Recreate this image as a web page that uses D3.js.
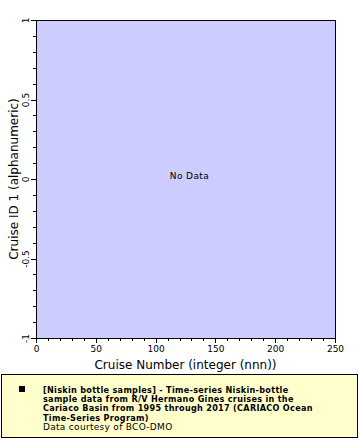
<!DOCTYPE html>
<html>
<head>
<meta charset="utf-8">
<script src="https://cdn.jsdelivr.net/npm/d3@7"></script>
<style>
  body { margin: 0; background: #fff; }
  svg { display: block; font-family: 'DejaVu Sans', sans-serif; }
</style>
</head>
<body>
<svg id="chart" width="360" height="440"></svg>
<script>
// axis domains and ticks
const xDomain = [0, 250];
const yDomain = [-1, 1];
const xTicks = [0, 50, 100, 150, 200, 250];
const xMinorTicks = d3.range(0, 251, 10);
const yTicks = [-1, -0.5, 0, 0.5, 1];
const yMinorTicks = d3.range(-10, 11).map(d => d / 10);
const yTickLabels = ['-1', '-0.5', '0', '0.5', '1'];

// legend text
const legendLines = [
  '[Niskin bottle samples] - Time-series Niskin-bottle',
  'sample data from R/V Hermano Gines cruises in the',
  'Cariaco Basin from 1995 through 2017 (CARIACO Ocean',
  'Time-Series Program)',
];
const creditLine = 'Data courtesy of BCO-DMO';

const cfg = {
  left: 36,
  top: 20,
  right: 335,
  bottom: 338,
  plotFill: '#ccccff',
  legendFill: '#ffffcc',
};

const svg = d3.select('#chart');

const x = d3.scaleLinear().domain(xDomain).range([cfg.left, cfg.right]);
const y = d3.scaleLinear().domain(yDomain).range([cfg.bottom, cfg.top]);

// plot background
svg.append('rect')
  .attr('x', cfg.left)
  .attr('y', cfg.top)
  .attr('width', cfg.right - cfg.left)
  .attr('height', cfg.bottom - cfg.top)
  .attr('fill', cfg.plotFill)
  .attr('stroke', '#000')
  .attr('stroke-width', 1)
  .attr('shape-rendering', 'crispEdges');

// no data message
svg.append('text')
  .attr('x', (cfg.left + cfg.right) / 2 + 4)
  .attr('y', 179)
  .attr('text-anchor', 'middle')
  .style('font-size', '9px')
  .style('letter-spacing', '0.4px')
  .text('No Data');

// x axis: minor ticks then major ticks with labels
svg.append('g')
  .attr('transform', 'translate(0,' + cfg.bottom + ')')
  .call(d3.axisBottom(x).tickValues(xMinorTicks).tickSize(3).tickFormat(''))
  .call(g => g.select('.domain').remove());

svg.append('g')
  .attr('class', 'xaxis')
  .attr('transform', 'translate(0,' + cfg.bottom + ')')
  .call(d3.axisBottom(x).tickValues(xTicks).tickSize(5).tickPadding(3).tickSizeOuter(0))
  .call(g => g.select('.domain').remove())
  .call(g => g.selectAll('text').style('font-size', '9px').style('font-family', 'DejaVu Sans'));

// y axis: minor ticks then major ticks with rotated labels
svg.append('g')
  .attr('transform', 'translate(' + cfg.left + ',0)')
  .call(d3.axisLeft(y).tickValues(yMinorTicks).tickSize(3).tickFormat(''))
  .call(g => g.select('.domain').remove());

const yAxis = svg.append('g')
  .attr('transform', 'translate(' + cfg.left + ',0)')
  .call(d3.axisLeft(y).tickValues(yTicks).tickSize(5).tickFormat((d, i) => yTickLabels[i]))
  .call(g => g.select('.domain').remove());

yAxis.selectAll('.tick text')
  .attr('x', 0)
  .attr('dy', null)
  .attr('transform', 'translate(-7,0) rotate(-90)')
  .attr('text-anchor', 'middle')
  .attr('y', 0)
  .style('font-size', '9px')
  .style('font-family', 'DejaVu Sans');

svg.selectAll('.tick line').attr('shape-rendering', 'crispEdges');

// axis titles
svg.append('text')
  .attr('x', (cfg.left + cfg.right) / 2)
  .attr('y', 369)
  .attr('text-anchor', 'middle')
  .style('font-size', '12px')
  .text('Cruise Number (integer (nnn))');

svg.append('text')
  .attr('transform', 'translate(18,' + (cfg.top + cfg.bottom) / 2 + ') rotate(-90)')
  .attr('text-anchor', 'middle')
  .style('font-size', '12px')
  .text('Cruise ID 1 (alphanumeric)');

// legend box
svg.append('rect')
  .attr('x', 1.5)
  .attr('y', 374.5)
  .attr('width', 356)
  .attr('height', 63)
  .attr('fill', cfg.legendFill)
  .attr('stroke', '#000')
  .attr('stroke-width', 1);

svg.append('rect')
  .attr('x', 19)
  .attr('y', 386)
  .attr('width', 6)
  .attr('height', 6)
  .attr('fill', '#000');

const legend = svg.append('text')
  .style('font-size', '9px')
  .style('font-family', 'DejaVu Sans Condensed, DejaVu Sans')
  .style('font-weight', 'bold')
  .style('letter-spacing', '0.3px');

legend.selectAll('tspan')
  .data(legendLines)
  .enter()
  .append('tspan')
  .attr('x', 43)
  .attr('y', (d, i) => 393 + i * 9.2)
  .text(d => d);

svg.append('text')
  .attr('x', 43)
  .attr('y', 393 + 4 * 9.2)
  .style('font-size', '9px')
  .style('font-family', 'DejaVu Sans')
  .style('letter-spacing', '0.3px')
  .text(creditLine);
</script>
</body>
</html>
